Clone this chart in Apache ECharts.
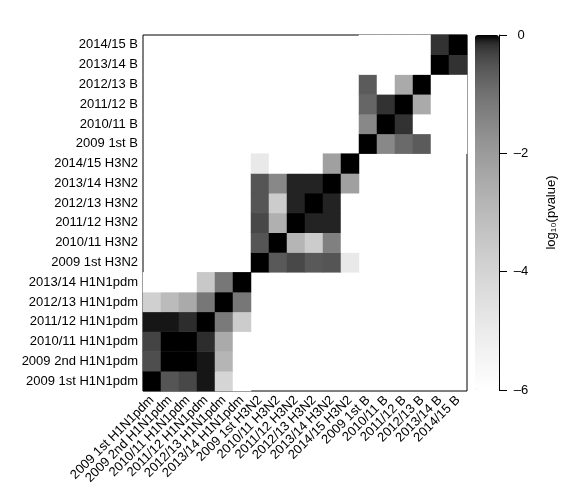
<!DOCTYPE html>
<html>
<head>
<meta charset="utf-8">
<script src="https://cdn.jsdelivr.net/npm/echarts@6/dist/echarts.min.js"></script>
<style>html,body{margin:0;padding:0;background:#fff;}#c{width:577px;height:494px;}</style>
</head>
<body>
<div id="c"></div>
<script>
// categories, bottom-to-top on y, left-to-right on x
const categories = [
  '2009 1st H1N1pdm','2009 2nd H1N1pdm','2010/11 H1N1pdm','2011/12 H1N1pdm','2012/13 H1N1pdm','2013/14 H1N1pdm',
  '2009 1st H3N2','2010/11 H3N2','2011/12 H3N2','2012/13 H3N2','2013/14 H3N2','2014/15 H3N2',
  '2009 1st B','2010/11 B','2011/12 B','2012/13 B','2013/14 B','2014/15 B'
];
// log10(pvalue); each row = one y category of the block (first = bottom), columns = x categories of the block
const h1n1Block = [
  [0, -0.53, -0.37, -0.07, -4.04, -6],
  [-0.44, 0, 0, -0.07, -2.82, -6],
  [-0.33, 0, 0, -0.14, -2.46, -6],
  [-0.07, -0.07, -0.14, 0, -1.19, -3.67],
  [-3.83, -3.03, -2.46, -1.12, 0, -1.12],
  [-6, -6, -6, -3.51, -1.12, 0]
];
const h3n2Block = [
  [0, -0.58, -0.37, -0.58, -0.53, -4.9],
  [-0.53, 0, -2.82, -3.67, -1.32, -6],
  [-0.37, -2.65, 0, -0.11, -0.11, -6],
  [-0.53, -3.67, -0.11, 0, -0.11, -6],
  [-0.53, -1.5, -0.11, -0.11, 0, -2.15],
  [-4.9, -6, -6, -6, -2.15, 0]
];
const bBlock = [
  [0, -1.5, -0.87, -0.61, -6, -6],
  [-1.5, 0, -0.17, -6, -6, -6],
  [-0.8, -0.17, 0, -2.46, -6, -6],
  [-0.61, -6, -2.46, 0, -6, -6],
  [-6, -6, -6, -6, 0, -0.17],
  [-6, -6, -6, -6, -0.17, 0]
];
const colorTicks = [0, -2, -4, -6];
const colorMin = -6, colorMax = 0;

const blocks = [[h1n1Block, 0], [h3n2Block, 6], [bBlock, 12]];
const cells = [];
blocks.forEach(([blk, off]) => {
  blk.forEach((row, k) => row.forEach((v, j) => cells.push([off + j, off + k, v])));
});

// gamma-corrected grey ramp (white at min, black at max)
const ramp = [];
const N = 40;
for (let i = 0; i <= N; i++) {
  const t = 1 - i / N;
  const L = Math.round(255 * Math.pow(t, 1 / 2.2));
  ramp.push('rgb(' + L + ',' + L + ',' + L + ')');
}
const fmtTick = v => (v < 0 ? '\u2013' + Math.abs(v) : String(v));

const chart = echarts.init(document.getElementById('c'), null, {renderer: 'canvas'});
const font = 'Liberation Sans, Arial, sans-serif';
chart.setOption({
  animation: false,
  backgroundColor: '#fff',
  textStyle: {fontFamily: font},
  grid: [
    {left: 143, top: 35, width: 324, height: 356, show: true, borderColor: '#000', borderWidth: 1, backgroundColor: 'transparent'},
    {left: 475, top: 35, width: 24, height: 355, show: false}
  ],
  xAxis: [
    {type: 'category', data: categories, gridIndex: 0,
     axisLine: {show: false}, axisTick: {show: false}, splitLine: {show: false},
     axisLabel: {rotate: 45, interval: 0, margin: 7, color: '#000', fontSize: 13, fontFamily: font}},
    {type: 'category', data: [''], gridIndex: 1, show: false}
  ],
  yAxis: [
    {type: 'category', data: categories, gridIndex: 0,
     axisLine: {show: false}, axisTick: {show: false}, splitLine: {show: false},
     axisLabel: {interval: 0, margin: 5, color: '#000', fontSize: 13, fontFamily: font}},
    {type: 'value', gridIndex: 1, position: 'right', min: colorMin, max: colorMax, interval: 2,
     axisLine: {show: true, lineStyle: {color: '#000', width: 1}},
     axisTick: {show: true, length: 8, lineStyle: {color: '#000'}},
     splitLine: {show: false},
     axisLabel: {margin: 22, align: 'center', color: '#000', fontSize: 13, fontFamily: font, formatter: fmtTick},
     name: 'log\u2081\u2080(pvalue)', nameLocation: 'middle', nameRotate: 90, nameGap: 46,
     nameTextStyle: {color: '#000', fontSize: 13, fontFamily: font}}
  ],
  visualMap: {
    type: 'continuous', min: colorMin, max: colorMax, calculable: false,
    orient: 'vertical', left: 475, top: 35, itemWidth: 24, itemHeight: 355,
    padding: 0, text: ['', ''], showLabel: false, seriesIndex: 0,
    inRange: {color: ramp}
  },
  series: [{
    type: 'heatmap', xAxisIndex: 0, yAxisIndex: 0, data: cells,
    itemStyle: {borderWidth: 0},
    emphasis: {disabled: true}
  }]
});
</script>
</body>
</html>
